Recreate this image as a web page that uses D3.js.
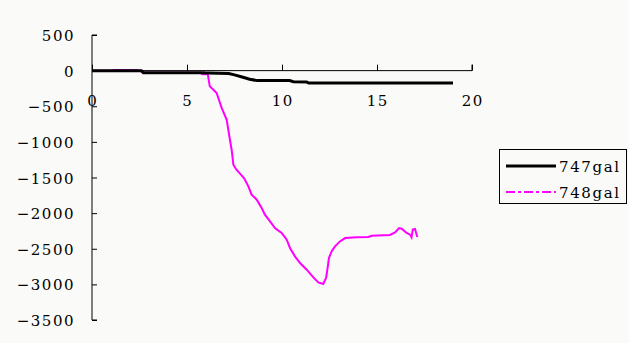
<!DOCTYPE html>
<html><head><meta charset="utf-8">
<script src="https://cdn.jsdelivr.net/npm/d3@7"></script>
<style>body{margin:0;background:#fafaf8}</style>
</head><body><svg id="c" width="629" height="343"></svg>
<script>
const xTicks = [0, 5, 10, 15, 20];
const yTicks = [500, 0, -500, -1000, -1500, -2000, -2500, -3000, -3500];
const seriesNames = ["747gal", "748gal"];
const t747 = [0, 1.0, 2.6, 2.7, 5.9, 6.1, 7.2, 7.5, 7.9, 8.3, 8.7, 10.4, 10.6, 11.3, 11.4, 19.0];
const v747 = [0, 0, 0, -30, -30, -35, -40, -60, -90, -120, -140, -140, -155, -160, -175, -175];
const t748 = [0, 1.0, 1.2, 2.3, 2.5, 2.7, 5.7, 5.8, 6.0, 6.08, 6.2, 6.56, 6.82, 7.09, 7.26, 7.35, 7.44, 7.6, 7.79, 8.0, 8.23, 8.4, 8.67, 8.93, 9.1, 9.37, 9.63, 9.98, 10.25, 10.42, 10.68, 10.95, 11.3, 11.65, 11.91, 12.17, 12.32, 12.4, 12.47, 12.61, 12.79, 13.05, 13.32, 13.93, 14.54, 14.72, 15.68, 15.95, 16.16, 16.3, 16.56, 16.74, 16.82, 16.88, 17.0, 17.12];
const v748 = [0, 0, 10, 10, 0, -30, -30, -50, -50, -30, -220, -313, -520, -690, -970, -1110, -1320, -1390, -1446, -1507, -1624, -1741, -1811, -1928, -2022, -2116, -2209, -2279, -2373, -2490, -2607, -2700, -2794, -2902, -2972, -2995, -2911, -2770, -2630, -2537, -2467, -2397, -2350, -2340, -2335, -2317, -2307, -2270, -2209, -2218, -2279, -2303, -2340, -2232, -2223, -2335];

const svg = d3.select("#c");
svg.append("rect").attr("width", 629).attr("height", 343).attr("fill", "#fafaf8");
const x = d3.scaleLinear().domain([0, 20]).range([92, 472]);
const y = d3.scaleLinear().domain([-3500, 500]).range([320, 35]);
const font = "'DejaVu Serif', 'Liberation Serif', serif";
const fmt = d => d < 0 ? "\u2212" + Math.abs(d) : String(d);

// y axis
const ya = svg.append("g").attr("transform", `translate(${x(0)},0)`)
  .call(d3.axisRight(y).tickValues(yTicks).tickSize(5).tickFormat(""));
ya.selectAll("path,line").attr("stroke", "#000").attr("stroke-width", 1);
ya.select(".domain").attr("d", `M5,${y(500)}H0V${y(-3500)}H5`);
svg.append("g").selectAll("text").data(yTicks).join("text")
  .attr("x", 75).attr("y", d => y(d) + 6).attr("text-anchor", "end")
  .attr("font-family", font).attr("font-size", 15).attr("letter-spacing", 1.5)
  .attr("fill", "#000").text(fmt);

// x axis
const xa = svg.append("g").attr("transform", `translate(0,${y(0)})`)
  .call(d3.axisTop(x).tickValues(xTicks).tickSize(6).tickFormat(""));
xa.selectAll("path,line").attr("stroke", "#000").attr("stroke-width", 1);
xa.select(".domain").attr("d", `M${x(0)},0H${x(20)}V-6`);
svg.append("g").selectAll("text").data(xTicks).join("text")
  .attr("x", d => x(d) + 0.7).attr("y", 106).attr("text-anchor", "middle")
  .attr("font-family", font).attr("font-size", 15).attr("letter-spacing", 1.4)
  .attr("fill", "#000").text(d => d);

const line = d3.line().x(d => x(d[0])).y(d => y(d[1]));
svg.append("path").datum(t748.map((t, i) => [t, v748[i]]))
  .attr("d", line).attr("fill", "none").attr("stroke", "#ff00ff").attr("stroke-width", 2);
svg.append("path").datum(t747.map((t, i) => [t, v747[i]]))
  .attr("d", line).attr("fill", "none").attr("stroke", "#000").attr("stroke-width", 3);

// legend
const lg = svg.append("g");
lg.append("rect").attr("x", 499.5).attr("y", 149.5).attr("width", 127).attr("height", 54)
  .attr("fill", "#fafaf8").attr("stroke", "#000").attr("stroke-width", 1);
const colors = ["#000", "#ff00ff"];
seriesNames.forEach((n, i) => {
  const yy = 166 + i * 26;
  lg.append("line").attr("x1", 506).attr("x2", 556).attr("y1", yy).attr("y2", yy)
    .attr("stroke", colors[i]).attr("stroke-width", i === 0 ? 3 : 2)
    .attr("stroke-dasharray", i === 0 ? null : "9,3,3,3");
  lg.append("text").attr("x", 559).attr("y", yy + 6)
    .attr("font-family", font).attr("font-size", 15).attr("letter-spacing", 1.6)
    .attr("fill", "#000").text(n);
});
</script></body></html>
